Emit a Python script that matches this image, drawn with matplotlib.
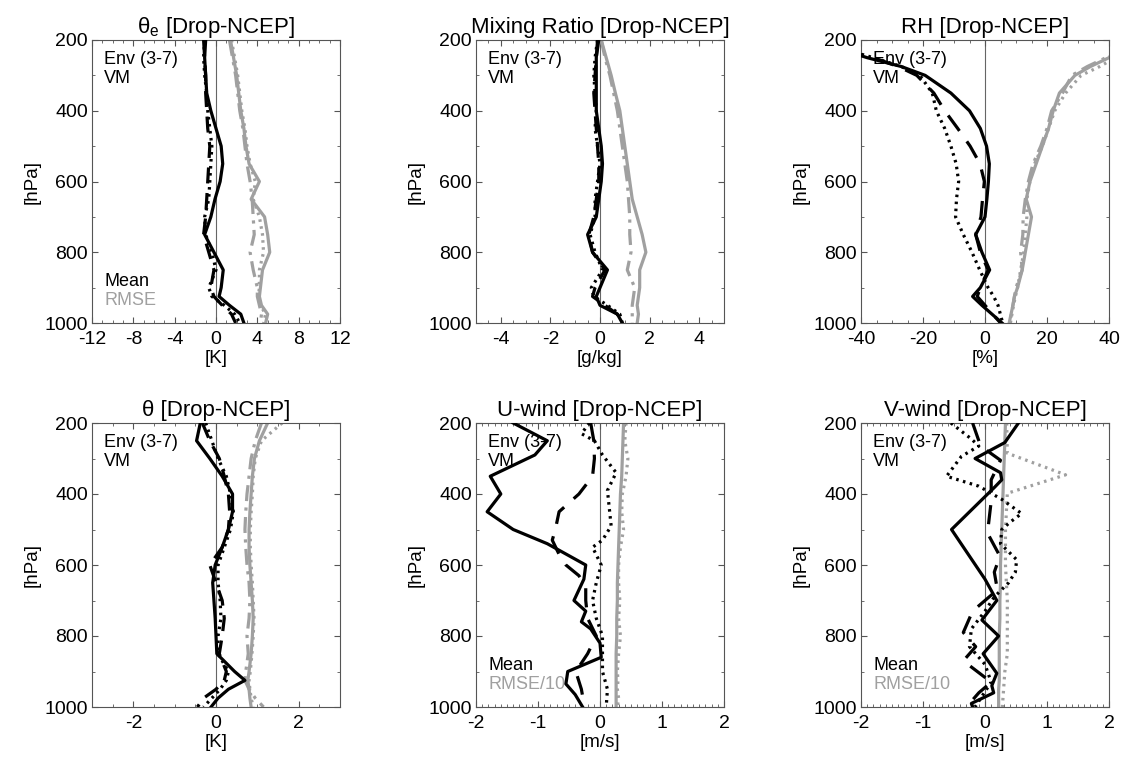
import matplotlib
matplotlib.use('Agg')
import matplotlib.pyplot as plt
from matplotlib.ticker import MultipleLocator

plt.rcParams['font.family'] = ['Liberation Sans', 'DejaVu Sans']
plt.rcParams['mathtext.fontset'] = 'custom'
plt.rcParams['mathtext.rm'] = 'Liberation Sans'
plt.rcParams['axes.unicode_minus'] = False

# pressure grid used by the smooth profiles
lev = [200, 250, 300, 350, 400, 450, 500, 550, 600, 650, 700, 750, 800, 850, 900, 925, 950, 975, 1000]

# theta-e [K]
te_solid = [-1.0, -1.1, -1.0, -0.9, -0.5, 0.0, 0.5, 0.65, 0.4, -0.1, -0.5, -1.1, -0.2, 0.7, 0.5, 0.3, 1.3, 2.4, 2.7]
te_dash = [-1.2, -1.1, -1.0, -1.0, -0.9, -0.8, -0.6, -0.7, -0.8, -0.9, -1.0, -1.2, -0.7, -0.2, -0.5, -0.2, 0.6, 1.5, 1.9]
te_dot = [-1.1, -1.2, -1.1, -0.9, -0.8, -0.6, -0.4, -0.5, -0.6, -0.7, -1.1, -1.0, -0.4, 0.0, -0.7, -0.4, 0.8, 1.8, 2.3]
te_rmse = [1.4, 1.7, 2.0, 2.2, 2.4, 2.7, 2.9, 3.2, 4.2, 3.4, 4.7, 5.0, 5.2, 4.5, 4.3, 4.2, 4.4, 5.0, 4.8]
te_rmse_dd = [1.3, 1.6, 1.9, 2.1, 2.3, 2.6, 2.8, 3.0, 3.3, 3.5, 3.6, 3.7, 3.3, 3.6, 4.0, 4.0, 4.2, 4.4, 4.3]
te_rmse_dot = [1.5, 1.8, 2.1, 2.3, 2.5, 2.8, 3.0, 3.3, 3.8, 3.6, 4.2, 4.5, 4.6, 4.2, 4.2, 4.1, 4.3, 4.8, 4.6]

# mixing ratio [g/kg]
q_solid = [-0.1, -0.15, -0.15, -0.15, -0.15, -0.05, 0.05, 0.1, 0.05, -0.05, -0.15, -0.5, -0.3, 0.3, 0.0, -0.15, 0.0, 0.7, 0.9]
q_dash = [-0.05, -0.15, -0.2, -0.25, -0.2, -0.15, -0.1, -0.05, -0.05, -0.15, -0.25, -0.45, -0.3, 0.2, -0.2, -0.3, 0.2, 0.7, 0.85]
q_dot = [-0.1, -0.2, -0.25, -0.2, -0.15, -0.2, -0.1, 0.0, -0.1, -0.2, -0.2, -0.4, -0.2, 0.1, -0.35, -0.25, 0.3, 0.8, 0.9]
q_rmse = [0.05, 0.25, 0.45, 0.62, 0.8, 0.9, 1.0, 1.1, 1.2, 1.3, 1.5, 1.7, 1.85, 1.6, 1.6, 1.55, 1.5, 1.55, 1.5]
q_rmse_dd = [0.05, 0.2, 0.4, 0.55, 0.7, 0.8, 0.9, 1.0, 1.1, 1.15, 1.2, 1.2, 1.25, 1.1, 1.4, 1.35, 1.3, 1.3, 1.3]

# relative humidity [%]
lev_rh = [200, 225, 250, 275, 300, 350, 400, 450, 500, 550, 600, 650, 700, 750, 800, 850, 900, 925, 950, 1000]
rh_solid = [-55, -47, -38, -27, -19.3, -11, -5, -1.5, 0.5, 1.4, 1.1, 0.6, 0.0, -3.0, -1.0, 1.5, -1.5, -4.0, -1.0, 5.5]
rh_dash = [-55, -48, -36, -28, -22, -16.5, -13, -8.8, -4.8, -1.6, -0.2, -0.8, -1.3, -3.0, -1.5, 1.0, -1.5, -2.5, 0.0, 5.0]
rh_dot = [-55, -46, -36, -27, -21, -17, -15.7, -13, -11, -9.3, -8.5, -9.2, -9.5, -7.0, -4.2, -1.7, 1.0, 2.8, 4.2, 5.7]
rh_rmse = [46, 42, 40, 34, 29, 24, 22, 20.5, 18.5, 16.5, 14.5, 13.3, 15, 14, 13, 12, 10.5, 9.5, 9, 7.8]
rh_rmse_dd = [47, 43, 39, 33, 28, 25, 21.5, 20, 18, 15.5, 14, 13, 12.3, 12.2, 11.5, 12, 10, 9.5, 9, 8]
rh_rmse_dot = [50, 45, 42, 37, 31, 26, 22.5, 20.5, 18.5, 16, 14.5, 13.5, 13.5, 13, 12.5, 11.5, 10.5, 9.8, 9.2, 8.2]

# theta [K]
th_solid = [-0.38, -0.47, -0.15, 0.15, 0.4, 0.4, 0.3, 0.15, -0.02, -0.08, -0.05, -0.02, 0.0, 0.02, 0.45, 0.7, 0.3, 0.05, -0.12]
th_dash = [-0.33, -0.15, 0.08, 0.2, 0.3, 0.33, 0.3, 0.15, -0.15, 0.0, 0.15, 0.2, 0.15, 0.08, 0.25, 0.2, 0.0, -0.3, -0.45]
th_dot = [-0.25, -0.1, 0.05, 0.25, 0.35, 0.42, 0.35, 0.2, 0.05, 0.05, 0.1, 0.12, 0.05, 0.05, 0.3, 0.25, 0.1, -0.1, -0.3]
th_rmse = [1.25, 1.05, 0.93, 0.88, 0.85, 0.82, 0.8, 0.8, 0.82, 0.85, 0.88, 0.9, 0.88, 0.85, 0.8, 0.77, 0.8, 0.82, 0.85]
th_rmse_dd = [1.1, 0.95, 0.85, 0.8, 0.75, 0.72, 0.7, 0.72, 0.75, 0.8, 0.82, 0.8, 0.75, 0.78, 0.72, 0.7, 0.8, 0.95, 1.15]
th_rmse_dot = [1.6, 1.1, 0.95, 0.9, 0.88, 0.85, 0.83, 0.83, 0.85, 0.88, 0.9, 0.92, 0.9, 0.87, 0.83, 0.8, 0.82, 0.85, 0.9]

# u-wind [m/s]
lev_u1 = [200, 250, 290, 350, 400, 450, 500, 540, 600, 640, 700, 730, 760, 780, 820, 860, 900, 935, 965, 1000]
u_solid = [-1.4, -0.85, -1.05, -1.77, -1.6, -1.82, -1.4, -0.85, -0.23, -0.26, -0.42, -0.23, -0.3, -0.15, 0.0, 0.02, -0.52, -0.55, -0.4, -0.28]
lev_u2 = [200, 250, 300, 350, 400, 450, 500, 530, 570, 600, 630, 660, 700, 750, 800, 850, 900, 950, 1000]
u_dash = [-0.15, -0.1, -0.09, -0.12, -0.34, -0.66, -0.72, -0.77, -0.66, -0.55, -0.34, -0.23, -0.23, -0.2, -0.06, -0.2, -0.39, -0.3, -0.25]
lev_u3 = [200, 230, 250, 290, 340, 390, 440, 490, 530, 550, 600, 650, 700, 750, 800, 850, 900, 950, 1000]
u_dot = [-0.17, -0.3, -0.09, 0.04, 0.26, 0.12, 0.15, 0.18, 0.04, -0.12, 0.02, -0.06, -0.12, -0.06, 0.04, 0.04, 0.04, 0.12, 0.1]
u_rmse = [0.38, 0.37, 0.36, 0.35, 0.33, 0.32, 0.31, 0.3, 0.29, 0.28, 0.28, 0.27, 0.27, 0.26, 0.26, 0.26, 0.26, 0.26, 0.26]
u_rmse_dd = [0.42, 0.4, 0.45, 0.42, 0.36, 0.35, 0.38, 0.33, 0.3, 0.3, 0.32, 0.3, 0.33, 0.3, 0.28, 0.29, 0.28, 0.3, 0.28]

# v-wind [m/s]
lev_v1 = [200, 255, 300, 340, 360, 380, 500, 640, 700, 755, 800, 850, 905, 940, 960, 990, 1000]
v_solid = [0.54, 0.32, -0.16, 0.25, 0.27, 0.16, -0.54, 0.0, 0.19, -0.05, 0.22, -0.03, 0.19, 0.11, 0.14, -0.22, -0.2]
lev_v2 = [200, 265, 305, 360, 420, 510, 575, 620, 670, 730, 790, 830, 870, 930, 960, 1000]
v_dash = [-0.2, -0.07, 0.25, 0.1, 0.1, 0.04, 0.24, 0.15, 0.2, -0.2, -0.35, -0.15, -0.35, 0.1, -0.1, -0.3]
lev_v3 = [200, 245, 265, 294, 350, 378, 415, 455, 480, 500, 540, 585, 620, 650, 690, 730, 780, 830, 880, 930, 970, 1000]
v_dot = [-0.55, -0.22, -0.1, -0.38, -0.62, -0.1, 0.27, 0.59, 0.4, 0.27, 0.25, 0.51, 0.49, 0.38, 0.15, 0.0, -0.22, -0.25, 0.0, 0.1, -0.05, -0.16]
v_rmse = [0.33, 0.32, 0.31, 0.3, 0.29, 0.28, 0.27, 0.26, 0.25, 0.25, 0.24, 0.24, 0.23, 0.23, 0.23, 0.23, 0.22, 0.22, 0.22]
lev_v4 = [200, 285, 346, 398, 500, 600, 700, 800, 850, 900, 950, 1000]
v_rmse_dot = [0.35, 0.36, 1.3, 0.36, 0.33, 0.33, 0.36, 0.36, 0.36, 0.32, 0.3, 0.28]

GRAY = '#a0a0a0'
DASH = (0, (5, 3))
DOT = (0, (0.8, 1.4))
DASHDOT = (0, (5, 2, 1, 2))

fig = plt.figure(figsize=(11.22, 7.59), dpi=100)

lefts = [92 / 1122, 476 / 1122, 861 / 1122]
w = 248 / 1122
rows = [(1 - 323 / 759, 283 / 759), (1 - 707 / 759, 284 / 759)]


def make_ax(row, col, xlim, major, minor, title, xlabel, top_text, bottom_text=None):
    b, h = rows[row]
    ax = fig.add_axes([lefts[col], b, w, h])
    ax.set_xlim(*xlim)
    ax.set_ylim(1000, 200)
    ax.xaxis.set_major_locator(MultipleLocator(major))
    ax.xaxis.set_minor_locator(MultipleLocator(minor))
    ax.yaxis.set_major_locator(MultipleLocator(200))
    ax.yaxis.set_minor_locator(MultipleLocator(100))
    ax.tick_params(which='both', direction='in', top=True, right=True,
                   labelsize=14, color='#555555')
    ax.tick_params(which='major', length=4, width=0.8)
    ax.tick_params(which='minor', length=2.5, width=0.6)
    ax.tick_params(axis='x', pad=6)
    ax.tick_params(axis='y', pad=3)
    for s in ax.spines.values():
        s.set_linewidth(0.8)
        s.set_color('#555555')
    ax.axvline(0, color='#666666', lw=0.8, zorder=1.5)
    ax.set_title(title, fontsize=16, pad=5)
    ax.set_xlabel(xlabel, fontsize=13.5, labelpad=1)
    ax.set_ylabel('[hPa]', fontsize=13.5, labelpad=3)
    ax.text(0.05, 0.93, top_text, transform=ax.transAxes, fontsize=13,
            va='center', ha='left', zorder=1)
    ax.text(0.05, 0.865, 'VM', transform=ax.transAxes, fontsize=13,
            va='center', ha='left', zorder=1)
    if bottom_text:
        ax.text(0.05, 0.145, 'Mean', transform=ax.transAxes, fontsize=13,
                va='center', ha='left', zorder=1)
        ax.text(0.05, 0.08, bottom_text, transform=ax.transAxes, fontsize=13,
                va='center', ha='left', color=GRAY, zorder=1)
    return ax


def black(ax, x, p, ls):
    ax.plot(x, p, color='black', lw=2.3, ls=ls, zorder=3)


def gray(ax, x, p, ls):
    ax.plot(x, p, color=GRAY, lw=2.3, ls=ls, zorder=2)


# theta-e
ax = make_ax(0, 0, (-12, 12), 4, 1, 'θ$_{\\rm e}$ [Drop-NCEP]', '[K]', 'Env (3-7)', 'RMSE')
gray(ax, te_rmse_dot, lev, DOT)
gray(ax, te_rmse_dd, lev, DASHDOT)
gray(ax, te_rmse, lev, '-')
black(ax, te_dot, lev, DOT)
black(ax, te_dash, lev, DASH)
black(ax, te_solid, lev, '-')

# mixing ratio
ax = make_ax(0, 1, (-5, 5), 2, 0.5, 'Mixing Ratio [Drop-NCEP]', '[g/kg]', 'Env (3-7)')
gray(ax, q_rmse_dd, lev, DASHDOT)
gray(ax, q_rmse, lev, '-')
black(ax, q_dot, lev, DOT)
black(ax, q_dash, lev, DASH)
black(ax, q_solid, lev, '-')

# RH
ax = make_ax(0, 2, (-40, 40), 20, 5, 'RH [Drop-NCEP]', '[%]', 'Env (3-7)')
gray(ax, rh_rmse_dot, lev_rh, DOT)
gray(ax, rh_rmse_dd, lev_rh, DASHDOT)
gray(ax, rh_rmse, lev_rh, '-')
black(ax, rh_dot, lev_rh, DOT)
black(ax, rh_dash, lev_rh, (0, (6, 4)))
black(ax, rh_solid, lev_rh, '-')

# theta
ax = make_ax(1, 0, (-3, 3), 2, 0.5, 'θ [Drop-NCEP]', '[K]', 'Env (3-7)')
gray(ax, th_rmse_dot, lev, DOT)
gray(ax, th_rmse_dd, lev, DASHDOT)
gray(ax, th_rmse, lev, '-')
black(ax, th_dot, lev, DOT)
black(ax, th_dash, lev, DASH)
black(ax, th_solid, lev, '-')

# u-wind
ax = make_ax(1, 1, (-2, 2), 1, 0.1, 'U-wind [Drop-NCEP]', '[m/s]', 'Env (3-7)', 'RMSE/10')
gray(ax, u_rmse_dd, lev, DOT)
gray(ax, u_rmse, lev, '-')
black(ax, u_dot, lev_u3, DOT)
black(ax, u_dash, lev_u2, (0, (6, 4)))
black(ax, u_solid, lev_u1, '-')

# v-wind
ax = make_ax(1, 2, (-2, 2), 1, 0.1, 'V-wind [Drop-NCEP]', '[m/s]', 'Env (3-7)', 'RMSE/10')
gray(ax, v_rmse_dot, lev_v4, DOT)
gray(ax, v_rmse, lev, '-')
black(ax, v_dot, lev_v3, DOT)
black(ax, v_dash, lev_v2, (0, (6, 4)))
black(ax, v_solid, lev_v1, '-')

fig.savefig('out.png', dpi=100)
